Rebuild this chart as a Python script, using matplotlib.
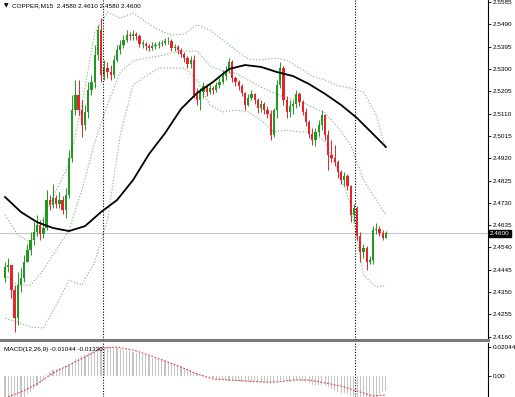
import matplotlib
matplotlib.use("Agg")
import matplotlib.pyplot as plt
import matplotlib.transforms as mtransforms
import numpy as np

symbol = "COPPER,M15"
last_ohlc = ["2.4580", "2.4610", "2.4580", "2.4600"]

# candles (open of each bar = previous close)
first_open = 2.4410
closes = [2.4457, 2.4465, 2.4359, 2.4239, 2.4380, 2.4410, 2.4478, 2.4529, 2.4572, 2.4606,
          2.4636, 2.4597, 2.4623, 2.4742, 2.4721, 2.4751, 2.4725, 2.4742, 2.4699, 2.4763,
          2.4921, 2.5125, 2.5189, 2.5125, 2.5062, 2.5117, 2.5211, 2.5245, 2.5360, 2.5466,
          2.5275, 2.5304, 2.5287, 2.5275, 2.5338, 2.5381, 2.5402, 2.5424, 2.5445, 2.5441,
          2.5449, 2.5441, 2.5407, 2.5407, 2.5398, 2.5390, 2.5398, 2.5402, 2.5407, 2.5411,
          2.5419, 2.5419, 2.5390, 2.5394, 2.5381, 2.5364, 2.5347, 2.5321, 2.5338, 2.5189,
          2.5168, 2.5202, 2.5228, 2.5202, 2.5219, 2.5211, 2.5232, 2.5245, 2.5270, 2.5292,
          2.5330, 2.5262, 2.5245, 2.5228, 2.5198, 2.5147, 2.5177, 2.5194, 2.5168, 2.5134,
          2.5151, 2.5125, 2.5108, 2.5019, 2.5125, 2.5232, 2.5304, 2.5168, 2.5117, 2.5142,
          2.5151, 2.5194, 2.5159, 2.5117, 2.5074, 2.5023, 2.4998, 2.5032, 2.5062, 2.5104,
          2.5019, 2.4934, 2.4921, 2.4904, 2.4861, 2.4827, 2.4844, 2.4802, 2.4678, 2.4708,
          2.4589, 2.4521, 2.4538, 2.4478, 2.4486, 2.4614, 2.4618, 2.4601, 2.4580, 2.4600]
highs = [2.4478, 2.4495, 2.4465, 2.4380, 2.4435, 2.4452, 2.4508, 2.4555, 2.4606, 2.4648,
         2.4678, 2.4657, 2.4665, 2.4785, 2.4763, 2.4810, 2.4763, 2.4776, 2.4759, 2.4793,
         2.4955, 2.5189, 2.5253, 2.5253, 2.5168, 2.5147, 2.5245, 2.5275, 2.5402, 2.5488,
         2.5517, 2.5338, 2.5330, 2.5317, 2.5360, 2.5402, 2.5424, 2.5445, 2.5466, 2.5458,
         2.5466, 2.5458, 2.5449, 2.5424, 2.5415, 2.5407, 2.5415, 2.5415, 2.5419, 2.5424,
         2.5432, 2.5436, 2.5428, 2.5407, 2.5402, 2.5390, 2.5372, 2.5355, 2.5355, 2.5360,
         2.5219, 2.5219, 2.5245, 2.5236, 2.5236, 2.5228, 2.5245, 2.5262, 2.5296, 2.5313,
         2.5347, 2.5338, 2.5270, 2.5253, 2.5236, 2.5202, 2.5194, 2.5211, 2.5198, 2.5177,
         2.5168, 2.5159, 2.5142, 2.5125, 2.5134, 2.5253, 2.5330, 2.5313, 2.5185, 2.5168,
         2.5168, 2.5211, 2.5202, 2.5168, 2.5134, 2.5083, 2.5049, 2.5049, 2.5083, 2.5125,
         2.5108, 2.5040, 2.4998, 2.4976, 2.4912, 2.4870, 2.4861, 2.4853, 2.4806, 2.4725,
         2.4716, 2.4606, 2.4555, 2.4546, 2.4503, 2.4631, 2.4644, 2.4631, 2.4614, 2.4610]
lows = [2.4393, 2.4435, 2.4325, 2.4180, 2.4210, 2.4350, 2.4393, 2.4478, 2.4508, 2.4550,
        2.4589, 2.4572, 2.4580, 2.4614, 2.4699, 2.4708, 2.4708, 2.4708, 2.4682, 2.4665,
        2.4751, 2.4904, 2.5104, 2.5104, 2.5010, 2.5040, 2.5091, 2.5189, 2.5219, 2.5338,
        2.5245, 2.5253, 2.5262, 2.5253, 2.5262, 2.5330, 2.5364, 2.5390, 2.5415, 2.5424,
        2.5424, 2.5424, 2.5394, 2.5390, 2.5381, 2.5377, 2.5381, 2.5385, 2.5390, 2.5398,
        2.5402, 2.5407, 2.5377, 2.5377, 2.5364, 2.5351, 2.5330, 2.5304, 2.5304, 2.5177,
        2.5147, 2.5125, 2.5177, 2.5185, 2.5194, 2.5194, 2.5202, 2.5219, 2.5236, 2.5253,
        2.5283, 2.5245, 2.5228, 2.5211, 2.5185, 2.5125, 2.5142, 2.5168, 2.5151, 2.5113,
        2.5117, 2.5108, 2.5091, 2.4998, 2.5010, 2.5091, 2.5219, 2.5147, 2.5091, 2.5096,
        2.5108, 2.5134, 2.5142, 2.5104, 2.5057, 2.5006, 2.4976, 2.4972, 2.5015, 2.5040,
        2.4998, 2.4870, 2.4904, 2.4887, 2.4836, 2.4810, 2.4802, 2.4785, 2.4648, 2.4648,
        2.4572, 2.4478, 2.4495, 2.4444, 2.4469, 2.4469, 2.4597, 2.4589, 2.4572, 2.4580]

# moving average, read every 5 bars
ma_bars = list(range(0, 120, 5)) + [119]
ma_vals = [2.4755, 2.4691, 2.4648, 2.4623, 2.4610, 2.4631, 2.4691, 2.4742, 2.4827, 2.4938,
           2.5027, 2.5130, 2.5198, 2.5245, 2.5300, 2.5317, 2.5309, 2.5287, 2.5270, 2.5236,
           2.5194, 2.5147, 2.5091, 2.5023, 2.4968]

# bollinger bands, read every 4 bars
band_bars = list(range(0, 120, 4)) + [119]
bb_upper = [2.4678, 2.4593, 2.4563, 2.4665, 2.4785, 2.4891, 2.5147, 2.5453, 2.5543, 2.5517,
            2.5539, 2.5500, 2.5466, 2.5445, 2.5449, 2.5488, 2.5466, 2.5424, 2.5381, 2.5343,
            2.5338, 2.5347, 2.5338, 2.5304, 2.5270, 2.5253, 2.5228, 2.5219, 2.5202, 2.5104,
            2.4955]
bb_mid = [2.4423, 2.4380, 2.4380, 2.4444, 2.4529, 2.4614, 2.4785, 2.4985, 2.5147, 2.5287,
          2.5334, 2.5347, 2.5355, 2.5368, 2.5377, 2.5377, 2.5313, 2.5292, 2.5283, 2.5253,
          2.5223, 2.5198, 2.5177, 2.5164, 2.5138, 2.5113, 2.5053, 2.4976, 2.4827, 2.4742,
          2.4678]
bb_lower = [2.4239, 2.4222, 2.4201, 2.4197, 2.4295, 2.4401, 2.4380, 2.4478, 2.4657, 2.5019,
            2.5232, 2.5270, 2.5304, 2.5304, 2.5304, 2.5253, 2.5147, 2.5117, 2.5125, 2.5117,
            2.5083, 2.5032, 2.5040, 2.5032, 2.5032, 2.4989, 2.4870, 2.4721, 2.4423, 2.4371,
            2.4380]

macd_bars = list(range(0, 120, 5)) + [119]
macd_signal = [-0.0155, -0.0113, -0.0056, 0.0021, 0.0078, 0.0134, 0.0197, 0.0204, 0.0183, 0.0148,
               0.0106, 0.0063, 0.0014, -0.0021, -0.0028, -0.0035, -0.0042, -0.0042, -0.0028, -0.0028,
               -0.0049, -0.0071, -0.0106, -0.0141, -0.0133]
macd_main = [-0.016, -0.016, -0.017, -0.018, -0.017, -0.016, -0.015, -0.013, -0.011, -0.009,
             -0.007, -0.005, -0.003,
             0.001, 0.003, 0.004, 0.005, 0.0055, 0.006, 0.007, 0.008, 0.010, 0.012, 0.013,
             0.014, 0.015, 0.016, 0.017, 0.018, 0.020,
             0.0205, 0.0205, 0.021, 0.0205, 0.020, 0.0195, 0.019, 0.0185, 0.018, 0.0175,
             0.017, 0.0165, 0.016, 0.015, 0.0145, 0.014, 0.013, 0.0125, 0.012, 0.011,
             0.0105, 0.010, 0.009, 0.0085, 0.008, 0.007, 0.006, 0.005, 0.004, 0.003,
             0.002, 0.001, 0.0005,
             -0.0005, -0.001, -0.0015,
             -0.002, -0.0025, -0.003, -0.003, -0.0035, -0.003, -0.003, -0.0035, -0.004, -0.0045,
             -0.004, -0.004, -0.0035, -0.004, -0.0045,
             -0.005, -0.005, -0.0055, -0.005, -0.004, -0.003, -0.003, -0.0035, -0.004, -0.0035,
             -0.003, -0.003, -0.0035, -0.004, -0.005,
             -0.006, -0.0065, -0.0065, -0.006, -0.007, -0.008, -0.009, -0.010,
             -0.011, -0.012, -0.012, -0.013, -0.014, -0.015, -0.016, -0.017, -0.018, -0.019,
             -0.019, -0.017, -0.015, -0.013, -0.0115, -0.01044]

price_ticks = [2.5585, 2.5490, 2.5395, 2.5300, 2.5205, 2.5110, 2.5015, 2.4920,
               2.4825, 2.4730, 2.4635, 2.4540, 2.4445, 2.4350, 2.4255, 2.4160]
macd_ticks = [0.0, 0.02044]
macd_tick_labels = ["0.00", "0.02044"]
current_price = 2.4600
day_breaks = [30.6, 109.4]

GREEN = "#1e9b1e"
RED = "#e8232a"
BAND = "#8fb88f"
FONT = "Liberation Sans"
FS = 4.6

W, H = 515, 397
fig = plt.figure(figsize=(W / 100, H / 100), dpi=100)
fig.patch.set_facecolor("white")
ax = fig.add_axes([0, 1 - 340 / H, 488 / W, 340 / H])
ax2 = fig.add_axes([0, 0, 488 / W, (H - 343) / H])

idx = np.arange(len(closes))
c = np.array(closes)
o = np.r_[first_open, c[:-1]]
hi = np.array(highs)
lo = np.array(lows)
cols = np.where(c >= o, GREEN, RED)

ax.axhline(current_price, color="#c8c8c8", lw=0.8, zorder=1)
for band in (bb_upper, bb_mid, bb_lower):
    ax.plot(band_bars, band, color=BAND, lw=0.8, ls=(0, (1.2, 1.6)), zorder=2)
ax.vlines(idx, lo, hi, colors=cols, lw=0.7, zorder=3)
ax.bar(idx, np.maximum(np.abs(c - o), 0.00025), bottom=np.minimum(o, c),
       width=0.7, color=cols, linewidth=0, zorder=4)
ax.plot(ma_bars, ma_vals, color="black", lw=1.3, zorder=5, solid_joinstyle="round")

ax2.bar(idx, macd_main, width=0.35, color="#c4c4c4", linewidth=0, zorder=2)
ax2.plot(macd_bars, macd_signal, color="#e03a3a", lw=0.7, ls=(0, (2, 1.5)), zorder=3)

for a in (ax, ax2):
    for d in day_breaks:
        a.axvline(d, color="black", lw=0.8, ls=(0, (1, 1.5)), zorder=6)
    a.set_xlim(-1.5625, 150.9)
    a.set_xticks([])
    a.yaxis.tick_right()
    a.tick_params(axis="y", direction="out", length=2.5, width=0.6, pad=1.2,
                  labelsize=FS, colors="black")
    a.spines["left"].set_visible(False)
    a.spines["top"].set_visible(False)
    a.spines["right"].set_linewidth(0.8)
    a.set_facecolor("white")

ax.set_ylim(2.4146, 2.5594)
ax.set_yticks(price_ticks)
ax.set_yticklabels([f"{p:.4f}" for p in price_ticks], fontfamily=FONT, fontsize=FS)
ax.spines["bottom"].set_color("#7a7a7a")
ax.spines["bottom"].set_linewidth(2.2)

ax2.set_ylim(-0.0148, 0.0233)
ax2.set_yticks(macd_ticks)
ax2.set_yticklabels(macd_tick_labels, fontfamily=FONT, fontsize=FS)
ax2.spines["bottom"].set_visible(False)

# current price box on the scale
trans = mtransforms.blended_transform_factory(ax.transAxes, ax.transData)
ax.text(1.004, current_price, f"{current_price:.4f}", transform=trans, fontsize=FS,
        family=FONT, color="white", va="center", ha="left",
        bbox=dict(boxstyle="square,pad=0.2", fc="black", ec="black"), clip_on=False)

fig.text(4 / W, 1 - 6 / H, "\u25bc", fontsize=4.2, family="DejaVu Sans", va="center", ha="left")
fig.text(12 / W, 1 - 6 / H, f"{symbol}  " + " ".join(last_ohlc), fontsize=FS,
         family=FONT, va="center", ha="left")
fig.text(4 / W, 1 - 349 / H, "MACD(12,26,9) -0.01044 -0.01330", fontsize=FS,
         family=FONT, va="center", ha="left")

fig.savefig("out.png", dpi=100, facecolor="white")
